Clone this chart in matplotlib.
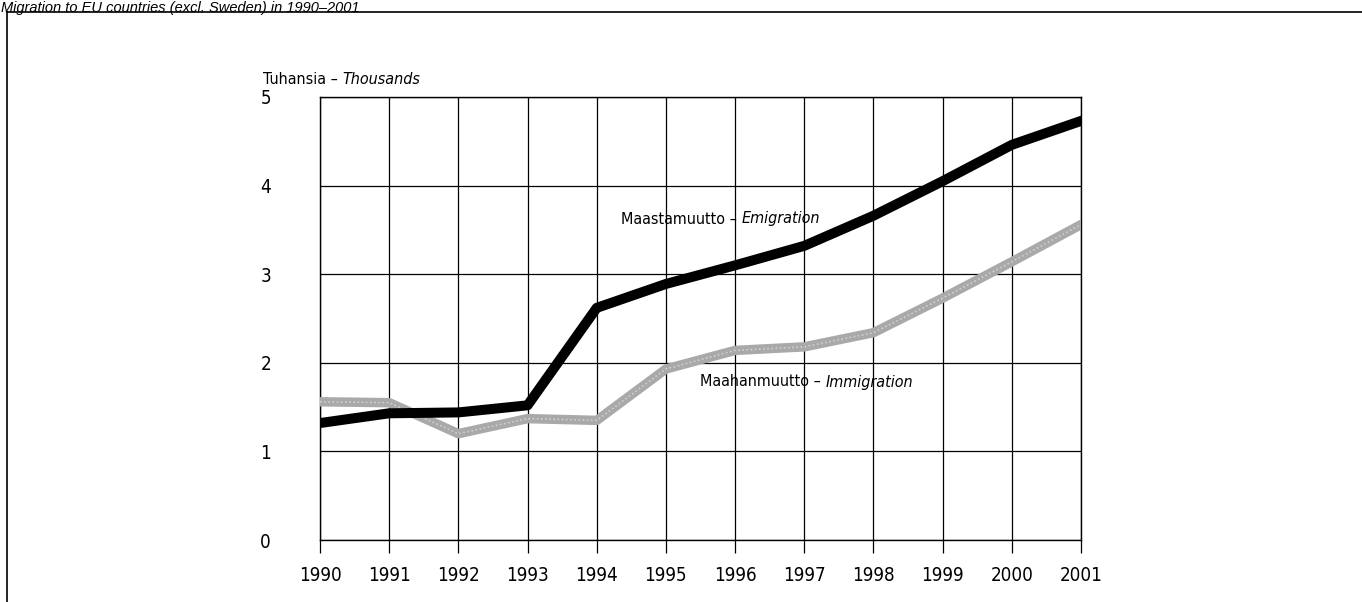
import numpy as np
import matplotlib
matplotlib.use('Agg')
import matplotlib.pyplot as plt
from matplotlib.lines import Line2D

plt.rcParams['font.family'] = ['DejaVu Sans']
plt.rcParams['font.stretch'] = 'condensed'

# Tiedot (tuhansia)
vuodet = [1990, 1991, 1992, 1993, 1994, 1995, 1996, 1997, 1998, 1999, 2000, 2001]
maastamuutto = [1.32, 1.43, 1.44, 1.52, 2.62, 2.89, 3.10, 3.32, 3.66, 4.05, 4.46, 4.73]
maahanmuutto = [1.56, 1.55, 1.20, 1.37, 1.35, 1.93, 2.14, 2.18, 2.34, 2.73, 3.14, 3.56]
y_ticks = [0, 1, 2, 3, 4, 5]

W, H = 1362, 602
fig = plt.figure(figsize=(W / 100, H / 100), dpi=100)
ax = fig.add_axes([320 / W, 1 - 540 / H, (1081 - 320) / W, (540 - 97) / H])

# Kuvan kehys (vain vasen ja ylä)
fig.add_artist(Line2D([7 / W, 7 / W], [0, 1 - 12 / H], transform=fig.transFigure, color='black', lw=1.2))
fig.add_artist(Line2D([7 / W, 1], [1 - 12 / H, 1 - 12 / H], transform=fig.transFigure, color='black', lw=1.2))

# Otsikko yläreunassa
fig.text(1 / W, 1 - 1 / H, 'Migration to EU countries (excl. Sweden) in 1990–2001',
         fontsize=10.5, style='italic', va='top', ha='left', family='Liberation Sans')

ax.plot(vuodet, maahanmuutto, color='#a9a9a9', lw=6.8, solid_joinstyle='round', zorder=3)
ax.plot(vuodet, maahanmuutto, color='#d0d0d0', lw=1.2, ls=(0, (1, 1.5)), zorder=3.1)
ax.plot(vuodet, maastamuutto, color='black', lw=7.2, solid_joinstyle='round', zorder=4)

ax.set_xlim(1990, 2001)
ax.set_ylim(0, 5)
ax.set_xticks(vuodet)
ax.set_yticks(y_ticks)
ax.grid(True, color='black', lw=0.9)
ax.set_axisbelow(True)
for s in ax.spines.values():
    s.set_color('black')
    s.set_linewidth(1.0)
ax.tick_params(axis='x', direction='out', length=9, width=0.9, pad=10, labelsize=13.5)
ax.tick_params(axis='y', length=0, pad=43, labelsize=13.5)
for t in ax.get_yticklabels():
    t.set_ha('left')


def kaksiosainen(x, y, normaali, kursiivi, size=11.5):
    # piirretään normaali osa ja sen perään kursiivi osa
    t1 = fig.text(x / W, 1 - y / H, normaali, fontsize=size, va='center', ha='left')
    fig.canvas.draw()
    bb = t1.get_window_extent()
    fig.text(bb.x1 / W, 1 - y / H, kursiivi, fontsize=size, va='center', ha='left', style='italic')


kaksiosainen(263, 80, 'Tuhansia – ', 'Thousands')
kaksiosainen(621, 219, 'Maastamuutto – ', 'Emigration')
kaksiosainen(700, 382, 'Maahanmuutto – ', 'Immigration')

fig.savefig('out.png', dpi=100)
